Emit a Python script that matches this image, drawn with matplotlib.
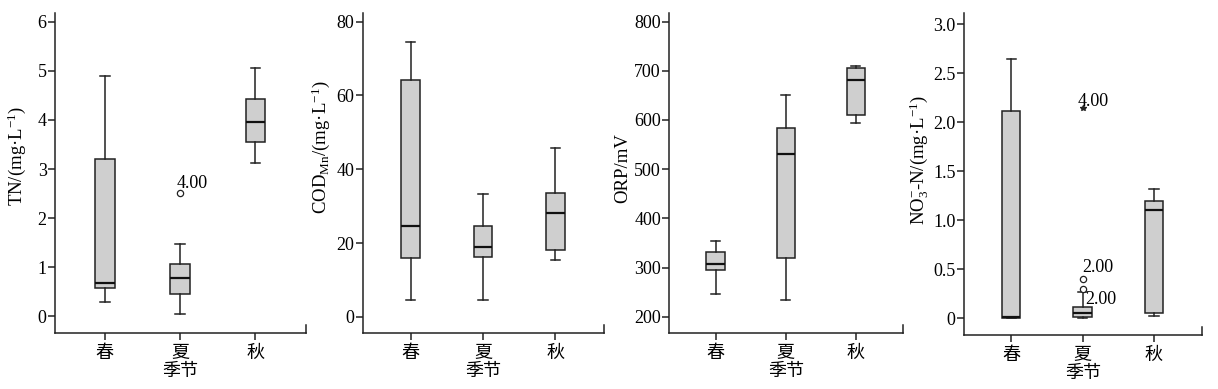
import matplotlib
matplotlib.use("Agg")
import matplotlib.pyplot as plt

plt.rcParams["font.family"] = ["Liberation Serif", "Noto Sans CJK SC"]
plt.rcParams["mathtext.fontset"] = "custom"
plt.rcParams["mathtext.rm"] = "Liberation Serif"
plt.rcParams["mathtext.it"] = "Liberation Serif:italic"

SEASONS = ["春", "夏", "秋"]

# five-number summaries: low whisker, Q1, median, Q3, high whisker
TN_LOW = [0.30, 0.05, 3.12]
TN_Q1 = [0.58, 0.46, 3.54]
TN_MED = [0.69, 0.78, 3.96]
TN_Q3 = [3.21, 1.07, 4.42]
TN_HIGH = [4.89, 1.47, 5.05]
TN_OUT = [[], [2.52], []]

COD_LOW = [4.5, 4.5, 15.4]
COD_Q1 = [16.0, 16.3, 18.0]
COD_MED = [24.6, 18.9, 28.0]
COD_Q3 = [64.1, 24.7, 33.6]
COD_HIGH = [74.4, 33.3, 45.7]
COD_OUT = [[], [], []]

ORP_LOW = [246, 233, 593]
ORP_Q1 = [295, 320, 610]
ORP_MED = [307, 531, 681]
ORP_Q3 = [331, 583, 706]
ORP_HIGH = [353, 650, 710]
ORP_OUT = [[], [], []]

NO3_LOW = [0.0, 0.0, 0.02]
NO3_Q1 = [0.0, 0.015, 0.05]
NO3_MED = [0.015, 0.05, 1.10]
NO3_Q3 = [2.11, 0.12, 1.20]
NO3_HIGH = [2.64, 0.27, 1.32]
NO3_OUT = [[], [0.30, 0.40], []]
NO3_EXTREME = [[], [2.14], []]

# outlier labels: (category position, value, text)
TN_NOTES = [(2, 2.52, "4.00")]
NO3_NOTES = [(2, 2.14, "4.00"), (2, 0.40, "2.00"), (2, 0.30, "2.00")]


def make_stats(low, q1, med, q3, high, out):
    return [
        {"whislo": a, "q1": b, "med": c, "q3": d, "whishi": e, "fliers": f}
        for a, b, c, d, e, f in zip(low, q1, med, q3, high, out)
    ]


def draw_panel(ax, stats, ylim, yticks, yticklabels, ylabel, label_xy):
    ax.bxp(
        stats,
        positions=[1, 2, 3],
        widths=0.26,
        patch_artist=True,
        boxprops={"facecolor": "#cfcfcf", "edgecolor": "#222222", "linewidth": 1.1},
        medianprops={"color": "#111111", "linewidth": 1.6},
        whiskerprops={"color": "#222222", "linewidth": 1.1},
        capprops={"color": "#222222", "linewidth": 1.1},
        capwidths=0.13,
        flierprops={"marker": "o", "markersize": 4.5, "markerfacecolor": "white",
                    "markeredgecolor": "#222222", "markeredgewidth": 0.9},
    )
    ax.set_xlim(0.34, 3.67)
    ax.set_ylim(*ylim)
    ax.set_yticks(yticks)
    ax.set_yticklabels(yticklabels, fontsize=13)
    ax.set_xticks([1, 2, 3])
    ax.set_xticklabels(SEASONS, fontsize=13, family=["Noto Sans CJK SC"])
    ax.set_xlabel("季节", fontsize=13, family=["Noto Sans CJK SC"])
    ax.xaxis.set_label_coords(0.5, -0.09)
    ax.set_ylabel(ylabel, fontsize=13.5)
    ax.yaxis.set_label_coords(*label_xy)
    ax.spines["top"].set_visible(False)
    ax.spines["right"].set_visible(False)
    ax.tick_params(direction="out", length=5, width=1.1, color="#222222")
    ax.tick_params(axis="y", pad=1)
    ax.tick_params(axis="x", pad=3)
    for side in ("left", "bottom"):
        ax.spines[side].set_linewidth(1.1)
        ax.spines[side].set_color("#222222")
    # little stub at right end of the x axis
    ax.plot([1, 1], [0, 0.025], transform=ax.transAxes, color="#222222", lw=1.1, clip_on=False)


fig = plt.figure(figsize=(12.18, 3.89), dpi=100)
ax1 = fig.add_axes([0.0452, 0.1447, 0.206, 0.8227])
ax2 = fig.add_axes([0.2978, 0.1447, 0.1981, 0.8227])
ax3 = fig.add_axes([0.5495, 0.1447, 0.1916, 0.8227])
ax4 = fig.add_axes([0.7915, 0.1388, 0.1951, 0.827])

draw_panel(ax1, make_stats(TN_LOW, TN_Q1, TN_MED, TN_Q3, TN_HIGH, TN_OUT),
           (-0.33, 6.18), range(0, 7), [str(v) for v in range(0, 7)],
           "TN/(mg·L$^{-1}$)", (-0.106, 0.552))
draw_panel(ax2, make_stats(COD_LOW, COD_Q1, COD_MED, COD_Q3, COD_HIGH, COD_OUT),
           (-4.3, 82.4), range(0, 81, 20), [str(v) for v in range(0, 81, 20)],
           "COD$_{\\mathrm{Mn}}$/(mg·L$^{-1}$)", (-0.128, 0.58))
draw_panel(ax3, make_stats(ORP_LOW, ORP_Q1, ORP_MED, ORP_Q3, ORP_HIGH, ORP_OUT),
           (167.5, 818), range(200, 801, 100), [str(v) for v in range(200, 801, 100)],
           "ORP/mV", (-0.161, 0.515))
draw_panel(ax4, make_stats(NO3_LOW, NO3_Q1, NO3_MED, NO3_Q3, NO3_HIGH, NO3_OUT),
           (-0.17, 3.11), [0, 0.5, 1.0, 1.5, 2.0, 2.5, 3.0],
           ["0", "0.5", "1.0", "1.5", "2.0", "2.5", "3.0"],
           "NO$_3^{-}$-N/(mg·L$^{-1}$)", (-0.14, 0.544))

for i, vals in enumerate(NO3_EXTREME):
    for v in vals:
        ax4.plot(i + 1, v, marker="*", markersize=4, color="#222222", linestyle="none")

for x, y, label in TN_NOTES:
    ax1.annotate(label, (x, y), xytext=(-2.4, 3.4), textcoords="offset points", fontsize=13)
note_offsets = [(-3.4, 1.7), (0, 4.8), (1.7, -10.8)]
for (x, y, label), off in zip(NO3_NOTES, note_offsets):
    ax4.annotate(label, (x, y), xytext=off, textcoords="offset points", fontsize=13)

fig.savefig("out.png", dpi=100)
